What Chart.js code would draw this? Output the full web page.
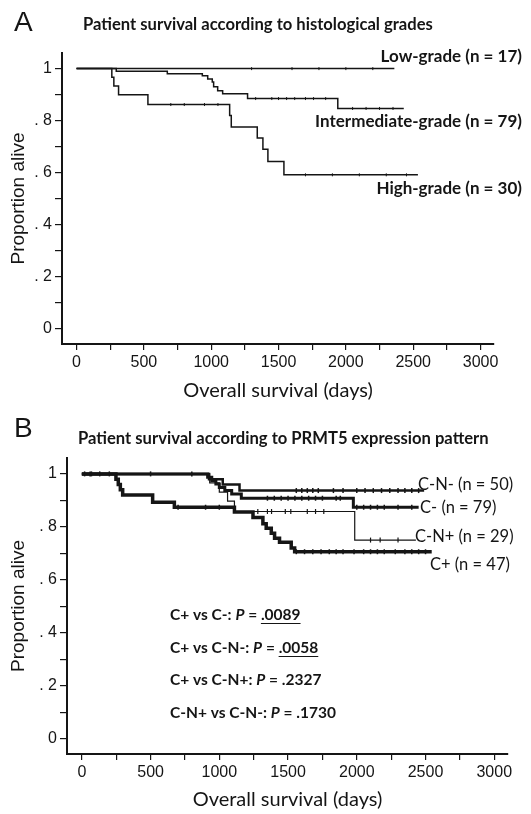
<!DOCTYPE html>
<html>
<head>
<meta charset="utf-8">
<script src="https://cdn.jsdelivr.net/npm/chart.js@4.4.1/dist/chart.umd.min.js"></script>
<style>
    html, body { margin: 0; padding: 0; background: #fff; }
    #wrap { position: relative; width: 531px; height: 814px; }
    canvas { position: absolute; left: 0; }
</style>
</head>
<body>
<div id="wrap">
    <canvas id="chartA" width="531" height="405" style="top:0"></canvas>
    <canvas id="chartB" width="531" height="409" style="top:405px"></canvas>
</div>
<script>
// ---- Data: panel A, histological grades (days / proportion alive) ----
const lowDays = [0, 2360];
const lowSurv = [1, 1];
const lowCensor = [1300, 1600, 1800, 2000, 2200];
const interDays = [0, 295, 674, 934, 974, 1008, 1018, 1048, 1085, 1270, 1940, 2430];
const interSurv = [1, 0.99, 0.98, 0.973, 0.96, 0.949, 0.93, 0.915, 0.903, 0.885, 0.847, 0.847];
const interCensor = [1330, 1450, 1500, 1560, 1620, 1700, 1760, 1850, 2050, 2150, 2250, 2350];
const highDays = [0, 262, 277, 312, 530, 1137, 1149, 1342, 1384, 1421, 1540, 2535];
const highSurv = [1, 0.967, 0.933, 0.9, 0.862, 0.82, 0.776, 0.733, 0.69, 0.643, 0.592, 0.592];
const highCensor = [700, 800, 950, 1050, 1700, 1900, 2100, 2300, 2450];

// ---- Data: panel B, PRMT5 expression pattern ----
const cnnDays = [0, 925, 1025, 1147, 2490];
const cnnSurv = [1, 0.98, 0.96, 0.937, 0.937];
const cnnCensor = [60, 500, 1560, 1600, 1640, 1680, 1720, 1830, 1900, 2000, 2060, 2120, 2180, 2240, 2300, 2350, 2400, 2450];
const cnegDays = [0, 915, 945, 975, 1000, 1040, 1090, 1160, 1975, 2450];
const cnegSurv = [1, 0.987, 0.975, 0.962, 0.949, 0.937, 0.924, 0.908, 0.874, 0.874];
const cnegCensor = [20, 200, 800, 1350, 1400, 1450, 1500, 1550, 1600, 1650, 1700, 1750, 1850, 1880, 2000, 2050, 2100, 2150, 2200, 2300, 2400];
const cnpDays = [0, 930, 1000, 1060, 1110, 1985, 2430];
const cnpSurv = [1, 0.966, 0.931, 0.897, 0.858, 0.75, 0.75];
const cnpCensor = [1280, 1350, 1380, 1480, 1520, 1640, 1700, 1760, 2100, 2170, 2300];
const cposDays = [0, 248, 265, 280, 297, 515, 673, 1110, 1245, 1317, 1341, 1378, 1402, 1438, 1523, 1548, 2545];
const cposSurv = [1, 0.98, 0.96, 0.94, 0.92, 0.893, 0.874, 0.856, 0.835, 0.812, 0.795, 0.776, 0.757, 0.742, 0.72, 0.706, 0.706];
const cposCensor = [70, 130, 700, 900, 1000, 1560, 1620, 1680, 1740, 1800, 1850, 1900, 1980, 2050, 2100, 2150, 2200, 2280, 2350, 2400, 2450, 2500];

// ---- Axis ticks ----
const xTicks = [0, 250, 500, 750, 1000, 1250, 1500, 1750, 2000, 2250, 2500, 2750, 3000];
const xTickLabels = ['0', '', '500', '', '1000', '', '1500', '', '2000', '', '2500', '', '3000'];
const yTicks = [0, 0.1, 0.2, 0.3, 0.4, 0.5, 0.6, 0.7, 0.8, 0.9, 1];
const yTickLabels = ['0', '', '. 2', '', '. 4', '', '. 6', '', '. 8', '', '1'];

const INK = '#151515';
const TICK_FONT = { family: '"Liberation Sans", Arial, sans-serif', size: 16 };
const TITLE_FONT = 'Lato, "Open Sans", sans-serif';

function toPoints(days, surv) {
    return days.map((d, i) => ({ x: d, y: surv[i] }));
}

// value of a step curve at time t
function survAt(days, surv, t) {
    let s = surv[0];
    days.forEach((d, i) => { if (d <= t) s = surv[i]; });
    return s;
}

function curve(days, surv, width) {
    return {
        data: toPoints(days, surv),
        stepped: true,
        borderColor: INK,
        borderWidth: width,
        pointRadius: 0,
        fill: false
    };
}

// small vertical ticks for censored cases
function censorMarks(days, surv, times, size, width) {
    return {
        data: times.map(t => ({ x: t, y: survAt(days, surv, t) })),
        showLine: false,
        pointStyle: 'line',
        rotation: 90,
        pointRadius: size,
        pointBorderWidth: width,
        borderColor: INK,
        backgroundColor: INK
    };
}

// draws free text (panel letters, titles, curve labels, p-values)
const panelTextPlugin = {
    id: 'panelText',
    afterDraw(chart, args, opts) {
        const ctx = chart.ctx;
        ctx.save();
        ctx.fillStyle = INK;
        ctx.strokeStyle = INK;
        ctx.textBaseline = 'middle';
        ctx.textAlign = 'left';
        (opts.items || []).forEach(item => {
            let total = 0;
            item.segs.forEach(s => { ctx.font = s.font; total += ctx.measureText(s.text).width; });
            let x = item.align === 'right' ? item.x - total : item.x;
            item.segs.forEach(s => {
                ctx.font = s.font;
                const w = ctx.measureText(s.text).width;
                ctx.fillText(s.text, x, item.y);
                if (s.underline) {
                    ctx.lineWidth = 1.2;
                    ctx.beginPath();
                    ctx.moveTo(x, item.y + 8.5);
                    ctx.lineTo(x + w, item.y + 8.5);
                    ctx.stroke();
                }
                x += w;
            });
        });
        ctx.restore();
    }
};

function makeScales(leftWidth, bottomHeight) {
    return {
        x: {
            type: 'linear',
            min: -108,
            max: 3100,
            afterBuildTicks: s => { s.ticks = xTicks.map(v => ({ value: v })); },
            afterFit: s => { s.height = bottomHeight; },
            ticks: {
                autoSkip: false,
                maxRotation: 0,
                padding: 3,
                color: INK,
                font: TICK_FONT,
                callback: (v, i) => xTickLabels[i]
            },
            grid: { display: true, drawOnChartArea: false, drawTicks: true, tickLength: 6, color: INK, lineWidth: 1.2 },
            border: { display: true, color: INK, width: 2 },
            title: {
                display: true,
                text: 'Overall survival (days)',
                color: INK,
                font: { family: TITLE_FONT, size: 20 },
                padding: { top: 0, bottom: 2 }
            }
        },
        y: {
            min: -0.058,
            max: 1.06,
            afterBuildTicks: s => { s.ticks = yTicks.map(v => ({ value: v })); },
            afterFit: s => { s.width = leftWidth; },
            ticks: {
                padding: 3,
                color: INK,
                font: TICK_FONT,
                callback: (v, i) => yTickLabels[i]
            },
            grid: { display: true, drawOnChartArea: false, drawTicks: true, tickLength: 7, color: INK, lineWidth: 1.2 },
            border: { display: true, color: INK, width: 2 },
            title: {
                display: true,
                text: 'Proportion alive',
                color: INK,
                font: { family: '"Liberation Sans", Arial, sans-serif', size: 19 },
                padding: { top: 7, bottom: 0 }
            }
        }
    };
}

function baseOptions(leftWidth, bottomHeight, padRight, items) {
    return {
        responsive: false,
        animation: false,
        devicePixelRatio: 1,
        layout: { padding: { left: 0, top: 53, right: padRight, bottom: 0 } },
        scales: makeScales(leftWidth, bottomHeight),
        plugins: {
            legend: { display: false },
            tooltip: { enabled: false },
            panelText: { items: items }
        }
    };
}

const titleFont = 'bold 16.6px ' + TITLE_FONT;
const labelA = 'bold 17px ' + TITLE_FONT;
const letterFont = '28px "Liberation Sans", Arial, sans-serif';

// ---- Panel A ----
const itemsA = [
    { x: 14, y: 23, segs: [{ text: 'A', font: letterFont }] },
    { x: 83, y: 25, segs: [{ text: 'Patient survival according to histological grades', font: titleFont }] },
    { x: 522, y: 57, align: 'right', segs: [{ text: 'Low-grade (n = 17)', font: labelA }] },
    { x: 522, y: 122, align: 'right', segs: [{ text: 'Intermediate-grade (n = 79)', font: labelA }] },
    { x: 522, y: 189, align: 'right', segs: [{ text: 'High-grade (n = 30)', font: labelA }] }
];

new Chart(document.getElementById('chartA'), {
    type: 'line',
    data: {
        datasets: [
            curve(lowDays, lowSurv, 1.5),
            curve(interDays, interSurv, 1.5),
            curve(highDays, highSurv, 1.5),
            censorMarks(lowDays, lowSurv, lowCensor, 1.5, 1),
            censorMarks(interDays, interSurv, interCensor, 1.5, 1),
            censorMarks(highDays, highSurv, highCensor, 1.5, 1)
        ]
    },
    options: baseOptions(62, 61, 37, itemsA),
    plugins: [panelTextPlugin]
});

// ---- Panel B ----
const reg16 = '16.5px ' + TITLE_FONT;
const b15 = 'bold 15.5px ' + TITLE_FONT;
const bi15 = 'italic bold 15.5px ' + TITLE_FONT;
const itemsB = [
    { x: 14, y: 24, segs: [{ text: 'B', font: letterFont }] },
    { x: 78, y: 34, segs: [{ text: 'Patient survival according to PRMT5 expression pattern', font: titleFont }] },
    { x: 418, y: 80, segs: [{ text: 'C-N- (n = 50)', font: reg16 }] },
    { x: 420, y: 103, segs: [{ text: 'C- (n = 79)', font: reg16 }] },
    { x: 415, y: 132, segs: [{ text: 'C-N+ (n = 29)', font: reg16 }] },
    { x: 430, y: 160, segs: [{ text: 'C+ (n = 47)', font: reg16 }] },
    { x: 170, y: 210, segs: [{ text: 'C+ vs C-: ', font: b15 }, { text: 'P', font: bi15 }, { text: ' = ', font: b15 }, { text: '.0089', font: b15, underline: true }] },
    { x: 170, y: 243, segs: [{ text: 'C+ vs C-N-: ', font: b15 }, { text: 'P', font: bi15 }, { text: ' = ', font: b15 }, { text: '.0058', font: b15, underline: true }] },
    { x: 170, y: 275, segs: [{ text: 'C+ vs C-N+: ', font: b15 }, { text: 'P', font: bi15 }, { text: ' = .2327', font: b15 }] },
    { x: 170, y: 308, segs: [{ text: 'C-N+ vs C-N-: ', font: b15 }, { text: 'P', font: bi15 }, { text: ' = .1730', font: b15 }] }
];

new Chart(document.getElementById('chartB'), {
    type: 'line',
    data: {
        datasets: [
            curve(cnnDays, cnnSurv, 2.5),
            curve(cnegDays, cnegSurv, 3),
            curve(cnpDays, cnpSurv, 1.2),
            curve(cposDays, cposSurv, 3.5),
            censorMarks(cnnDays, cnnSurv, cnnCensor, 2.5, 1.5),
            censorMarks(cnegDays, cnegSurv, cnegCensor, 2.5, 1.5),
            censorMarks(cnpDays, cnpSurv, cnpCensor, 2.5, 1.2),
            censorMarks(cposDays, cposSurv, cposCensor, 2.5, 1.5)
        ]
    },
    options: baseOptions(67, 60, 23, itemsB),
    plugins: [panelTextPlugin]
});
</script>
</body>
</html>
